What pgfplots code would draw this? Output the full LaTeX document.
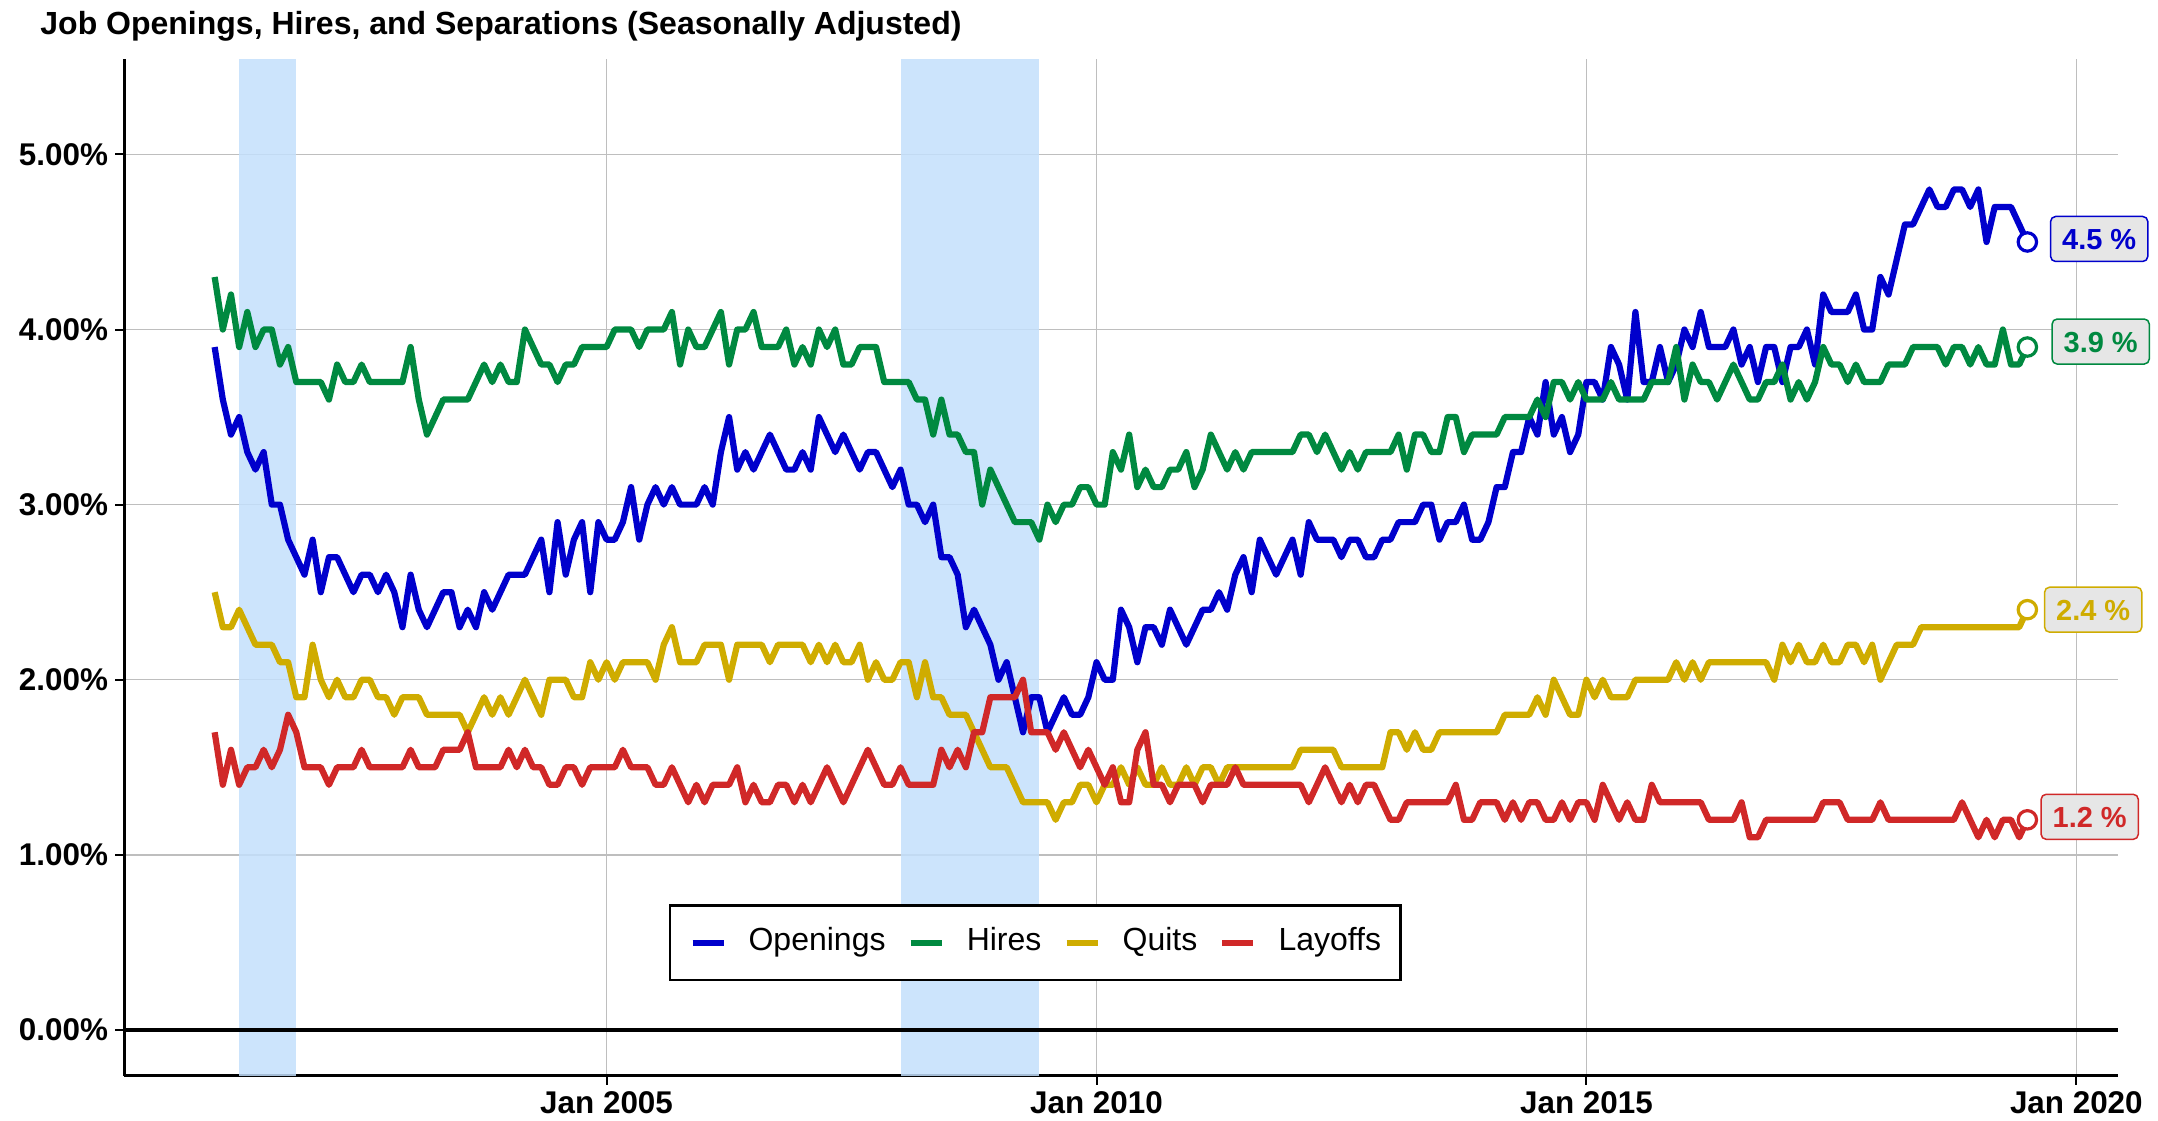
\documentclass[border=0pt]{standalone}
\usepackage{fontspec}
\setmainfont{Liberation Sans}
\usepackage{pgfplots}
\pgfplotsset{compat=1.18}
\usepackage{pgfplotstable}

\definecolor{cOpen}{RGB}{0,0,204}
\definecolor{cHire}{RGB}{0,137,64}
\definecolor{cQuit}{RGB}{207,172,0}
\definecolor{cLay}{RGB}{208,40,40}
\definecolor{cRec}{RGB}{195,223,252}
\definecolor{cGrid}{RGB}{190,190,190}
\definecolor{cBox}{RGB}{230,230,230}

\pgfplotstableread{
yr mo O H Q L
2001 1 3.9 4.3 2.5 1.7
2001 2 3.6 4.0 2.3 1.4
2001 3 3.4 4.2 2.3 1.6
2001 4 3.5 3.9 2.4 1.4
2001 5 3.3 4.1 2.3 1.5
2001 6 3.2 3.9 2.2 1.5
2001 7 3.3 4.0 2.2 1.6
2001 8 3.0 4.0 2.2 1.5
2001 9 3.0 3.8 2.1 1.6
2001 10 2.8 3.9 2.1 1.8
2001 11 2.7 3.7 1.9 1.7
2001 12 2.6 3.7 1.9 1.5
2002 1 2.8 3.7 2.2 1.5
2002 2 2.5 3.7 2.0 1.5
2002 3 2.7 3.6 1.9 1.4
2002 4 2.7 3.8 2.0 1.5
2002 5 2.6 3.7 1.9 1.5
2002 6 2.5 3.7 1.9 1.5
2002 7 2.6 3.8 2.0 1.6
2002 8 2.6 3.7 2.0 1.5
2002 9 2.5 3.7 1.9 1.5
2002 10 2.6 3.7 1.9 1.5
2002 11 2.5 3.7 1.8 1.5
2002 12 2.3 3.7 1.9 1.5
2003 1 2.6 3.9 1.9 1.6
2003 2 2.4 3.6 1.9 1.5
2003 3 2.3 3.4 1.8 1.5
2003 4 2.4 3.5 1.8 1.5
2003 5 2.5 3.6 1.8 1.6
2003 6 2.5 3.6 1.8 1.6
2003 7 2.3 3.6 1.8 1.6
2003 8 2.4 3.6 1.7 1.7
2003 9 2.3 3.7 1.8 1.5
2003 10 2.5 3.8 1.9 1.5
2003 11 2.4 3.7 1.8 1.5
2003 12 2.5 3.8 1.9 1.5
2004 1 2.6 3.7 1.8 1.6
2004 2 2.6 3.7 1.9 1.5
2004 3 2.6 4.0 2.0 1.6
2004 4 2.7 3.9 1.9 1.5
2004 5 2.8 3.8 1.8 1.5
2004 6 2.5 3.8 2.0 1.4
2004 7 2.9 3.7 2.0 1.4
2004 8 2.6 3.8 2.0 1.5
2004 9 2.8 3.8 1.9 1.5
2004 10 2.9 3.9 1.9 1.4
2004 11 2.5 3.9 2.1 1.5
2004 12 2.9 3.9 2.0 1.5
2005 1 2.8 3.9 2.1 1.5
2005 2 2.8 4.0 2.0 1.5
2005 3 2.9 4.0 2.1 1.6
2005 4 3.1 4.0 2.1 1.5
2005 5 2.8 3.9 2.1 1.5
2005 6 3.0 4.0 2.1 1.5
2005 7 3.1 4.0 2.0 1.4
2005 8 3.0 4.0 2.2 1.4
2005 9 3.1 4.1 2.3 1.5
2005 10 3.0 3.8 2.1 1.4
2005 11 3.0 4.0 2.1 1.3
2005 12 3.0 3.9 2.1 1.4
2006 1 3.1 3.9 2.2 1.3
2006 2 3.0 4.0 2.2 1.4
2006 3 3.3 4.1 2.2 1.4
2006 4 3.5 3.8 2.0 1.4
2006 5 3.2 4.0 2.2 1.5
2006 6 3.3 4.0 2.2 1.3
2006 7 3.2 4.1 2.2 1.4
2006 8 3.3 3.9 2.2 1.3
2006 9 3.4 3.9 2.1 1.3
2006 10 3.3 3.9 2.2 1.4
2006 11 3.2 4.0 2.2 1.4
2006 12 3.2 3.8 2.2 1.3
2007 1 3.3 3.9 2.2 1.4
2007 2 3.2 3.8 2.1 1.3
2007 3 3.5 4.0 2.2 1.4
2007 4 3.4 3.9 2.1 1.5
2007 5 3.3 4.0 2.2 1.4
2007 6 3.4 3.8 2.1 1.3
2007 7 3.3 3.8 2.1 1.4
2007 8 3.2 3.9 2.2 1.5
2007 9 3.3 3.9 2.0 1.6
2007 10 3.3 3.9 2.1 1.5
2007 11 3.2 3.7 2.0 1.4
2007 12 3.1 3.7 2.0 1.4
2008 1 3.2 3.7 2.1 1.5
2008 2 3.0 3.7 2.1 1.4
2008 3 3.0 3.6 1.9 1.4
2008 4 2.9 3.6 2.1 1.4
2008 5 3.0 3.4 1.9 1.4
2008 6 2.7 3.6 1.9 1.6
2008 7 2.7 3.4 1.8 1.5
2008 8 2.6 3.4 1.8 1.6
2008 9 2.3 3.3 1.8 1.5
2008 10 2.4 3.3 1.7 1.7
2008 11 2.3 3.0 1.6 1.7
2008 12 2.2 3.2 1.5 1.9
2009 1 2.0 3.1 1.5 1.9
2009 2 2.1 3.0 1.5 1.9
2009 3 1.9 2.9 1.4 1.9
2009 4 1.7 2.9 1.3 2.0
2009 5 1.9 2.9 1.3 1.7
2009 6 1.9 2.8 1.3 1.7
2009 7 1.7 3.0 1.3 1.7
2009 8 1.8 2.9 1.2 1.6
2009 9 1.9 3.0 1.3 1.7
2009 10 1.8 3.0 1.3 1.6
2009 11 1.8 3.1 1.4 1.5
2009 12 1.9 3.1 1.4 1.6
2010 1 2.1 3.0 1.3 1.5
2010 2 2.0 3.0 1.4 1.4
2010 3 2.0 3.3 1.4 1.5
2010 4 2.4 3.2 1.5 1.3
2010 5 2.3 3.4 1.4 1.3
2010 6 2.1 3.1 1.5 1.6
2010 7 2.3 3.2 1.4 1.7
2010 8 2.3 3.1 1.4 1.4
2010 9 2.2 3.1 1.5 1.4
2010 10 2.4 3.2 1.4 1.3
2010 11 2.3 3.2 1.4 1.4
2010 12 2.2 3.3 1.5 1.4
2011 1 2.3 3.1 1.4 1.4
2011 2 2.4 3.2 1.5 1.3
2011 3 2.4 3.4 1.5 1.4
2011 4 2.5 3.3 1.4 1.4
2011 5 2.4 3.2 1.5 1.4
2011 6 2.6 3.3 1.5 1.5
2011 7 2.7 3.2 1.5 1.4
2011 8 2.5 3.3 1.5 1.4
2011 9 2.8 3.3 1.5 1.4
2011 10 2.7 3.3 1.5 1.4
2011 11 2.6 3.3 1.5 1.4
2011 12 2.7 3.3 1.5 1.4
2012 1 2.8 3.3 1.5 1.4
2012 2 2.6 3.4 1.6 1.4
2012 3 2.9 3.4 1.6 1.3
2012 4 2.8 3.3 1.6 1.4
2012 5 2.8 3.4 1.6 1.5
2012 6 2.8 3.3 1.6 1.4
2012 7 2.7 3.2 1.5 1.3
2012 8 2.8 3.3 1.5 1.4
2012 9 2.8 3.2 1.5 1.3
2012 10 2.7 3.3 1.5 1.4
2012 11 2.7 3.3 1.5 1.4
2012 12 2.8 3.3 1.5 1.3
2013 1 2.8 3.3 1.7 1.2
2013 2 2.9 3.4 1.7 1.2
2013 3 2.9 3.2 1.6 1.3
2013 4 2.9 3.4 1.7 1.3
2013 5 3.0 3.4 1.6 1.3
2013 6 3.0 3.3 1.6 1.3
2013 7 2.8 3.3 1.7 1.3
2013 8 2.9 3.5 1.7 1.3
2013 9 2.9 3.5 1.7 1.4
2013 10 3.0 3.3 1.7 1.2
2013 11 2.8 3.4 1.7 1.2
2013 12 2.8 3.4 1.7 1.3
2014 1 2.9 3.4 1.7 1.3
2014 2 3.1 3.4 1.7 1.3
2014 3 3.1 3.5 1.8 1.2
2014 4 3.3 3.5 1.8 1.3
2014 5 3.3 3.5 1.8 1.2
2014 6 3.5 3.5 1.8 1.3
2014 7 3.4 3.6 1.9 1.3
2014 8 3.7 3.5 1.8 1.2
2014 9 3.4 3.7 2.0 1.2
2014 10 3.5 3.7 1.9 1.3
2014 11 3.3 3.6 1.8 1.2
2014 12 3.4 3.7 1.8 1.3
2015 1 3.7 3.6 2.0 1.3
2015 2 3.7 3.6 1.9 1.2
2015 3 3.6 3.6 2.0 1.4
2015 4 3.9 3.7 1.9 1.3
2015 5 3.8 3.6 1.9 1.2
2015 6 3.6 3.6 1.9 1.3
2015 7 4.1 3.6 2.0 1.2
2015 8 3.7 3.6 2.0 1.2
2015 9 3.7 3.7 2.0 1.4
2015 10 3.9 3.7 2.0 1.3
2015 11 3.7 3.7 2.0 1.3
2015 12 3.8 3.9 2.1 1.3
2016 1 4.0 3.6 2.0 1.3
2016 2 3.9 3.8 2.1 1.3
2016 3 4.1 3.7 2.0 1.3
2016 4 3.9 3.7 2.1 1.2
2016 5 3.9 3.6 2.1 1.2
2016 6 3.9 3.7 2.1 1.2
2016 7 4.0 3.8 2.1 1.2
2016 8 3.8 3.7 2.1 1.3
2016 9 3.9 3.6 2.1 1.1
2016 10 3.7 3.6 2.1 1.1
2016 11 3.9 3.7 2.1 1.2
2016 12 3.9 3.7 2.0 1.2
2017 1 3.7 3.8 2.2 1.2
2017 2 3.9 3.6 2.1 1.2
2017 3 3.9 3.7 2.2 1.2
2017 4 4.0 3.6 2.1 1.2
2017 5 3.8 3.7 2.1 1.2
2017 6 4.2 3.9 2.2 1.3
2017 7 4.1 3.8 2.1 1.3
2017 8 4.1 3.8 2.1 1.3
2017 9 4.1 3.7 2.2 1.2
2017 10 4.2 3.8 2.2 1.2
2017 11 4.0 3.7 2.1 1.2
2017 12 4.0 3.7 2.2 1.2
2018 1 4.3 3.7 2.0 1.3
2018 2 4.2 3.8 2.1 1.2
2018 3 4.4 3.8 2.2 1.2
2018 4 4.6 3.8 2.2 1.2
2018 5 4.6 3.9 2.2 1.2
2018 6 4.7 3.9 2.3 1.2
2018 7 4.8 3.9 2.3 1.2
2018 8 4.7 3.9 2.3 1.2
2018 9 4.7 3.8 2.3 1.2
2018 10 4.8 3.9 2.3 1.2
2018 11 4.8 3.9 2.3 1.3
2018 12 4.7 3.8 2.3 1.2
2019 1 4.8 3.9 2.3 1.1
2019 2 4.5 3.8 2.3 1.2
2019 3 4.7 3.8 2.3 1.1
2019 4 4.7 4.0 2.3 1.2
2019 5 4.7 3.8 2.3 1.2
2019 6 4.6 3.8 2.3 1.1
2019 7 4.5 3.9 2.4 1.2
}\jolts

\begin{document}
\begin{tikzpicture}
\begin{axis}[
  scale only axis, width=997pt, height=508.5pt,
  xmin=2000.075, xmax=2020.425, ymin=-0.263, ymax=5.545,
  axis x line*=bottom, axis y line*=left,
  axis line style={line width=1.5pt,-},
  xtick={2005,2010,2015,2020},
  xticklabels={Jan 2005,Jan 2010,Jan 2015,Jan 2020},
  ytick={0,1,2,3,4,5},
  yticklabels={0.00\%,1.00\%,2.00\%,3.00\%,4.00\%,5.00\%},
  tick align=outside, major tick length=4.5pt,
  tick style={line width=1pt, black},
  grid=major, major grid style={line width=0.75pt, cGrid},
  ticklabel style={font=\fontsize{15.7}{18}\selectfont\bfseries},
  clip=false,
  legend columns=4,
  legend style={
    at={(axis description cs:0.457,0.131)}, anchor=center,
    draw=black, line width=1.25pt,
    inner xsep=9.8pt, inner ysep=11.25pt,
    font=\fontsize{16}{19}\selectfont,
    nodes={inner sep=0pt, text height=11.5pt, text depth=3.4pt},
    /tikz/every odd column/.append style={column sep=11pt},
    /tikz/every even column/.append style={column sep=11pt},
  },
  legend image code/.code={\draw[#1] (0pt,0pt) -- (15.5pt,0pt);},
]
% recession shading
\addplot[forget plot, draw=none, fill=cRec, fill opacity=0.85] coordinates {(2001.25,-0.263) (2001.833,-0.263) (2001.833,5.545) (2001.25,5.545)};
\addplot[forget plot, draw=none, fill=cRec, fill opacity=0.85] coordinates {(2008.0,-0.263) (2009.417,-0.263) (2009.417,5.545) (2008.0,5.545)};
% zero line
\addplot[forget plot, black, line width=2pt] coordinates {(2000.075,0) (2020.425,0)};

\addplot[cOpen, line width=3.1pt, line join=round] table[x expr={\thisrow{yr}+(\thisrow{mo}-1)/12}, y=O] {\jolts};
\addlegendentry{Openings}
\addplot[cHire, line width=3.1pt, line join=round] table[x expr={\thisrow{yr}+(\thisrow{mo}-1)/12}, y=H] {\jolts};
\addlegendentry{Hires}
\addplot[cQuit, line width=3.1pt, line join=round] table[x expr={\thisrow{yr}+(\thisrow{mo}-1)/12}, y=Q] {\jolts};
\addlegendentry{Quits}
\addplot[cLay, line width=3.1pt, line join=round] table[x expr={\thisrow{yr}+(\thisrow{mo}-1)/12}, y=L] {\jolts};
\addlegendentry{Layoffs}

% end markers
\addplot[forget plot, only marks, mark=*, mark size=4.6pt, mark options={fill=white, draw=cOpen, line width=1.6pt}] coordinates {(2019.5,4.5)};
\addplot[forget plot, only marks, mark=*, mark size=4.6pt, mark options={fill=white, draw=cHire, line width=1.6pt}] coordinates {(2019.5,3.9)};
\addplot[forget plot, only marks, mark=*, mark size=4.6pt, mark options={fill=white, draw=cQuit, line width=1.6pt}] coordinates {(2019.5,2.4)};
\addplot[forget plot, only marks, mark=*, mark size=4.6pt, mark options={fill=white, draw=cLay, line width=1.6pt}] coordinates {(2019.5,1.2)};

% end labels
\tikzset{endlab/.style={anchor=west, fill=cBox, rounded corners=2.5pt, line width=0.75pt,
  inner xsep=5.75pt, inner ysep=6pt, text height=10.5pt, text depth=0pt,
  font=\fontsize{14.5}{17}\selectfont\bfseries}}
\node[endlab, draw=cOpen, text=cOpen, xshift=11.25pt, yshift=1.5pt] at (axis cs:2019.5,4.5) {4.5 \%};
\node[endlab, draw=cHire, text=cHire, xshift=12pt, yshift=2.75pt] at (axis cs:2019.5,3.9) {3.9 \%};
\node[endlab, draw=cQuit, text=cQuit, xshift=8.25pt] at (axis cs:2019.5,2.4) {2.4 \%};
\node[endlab, draw=cLay, text=cLay, xshift=6.5pt, yshift=1.5pt] at (axis cs:2019.5,1.2) {1.2 \%};

% title
\node[anchor=base west, inner sep=0pt, font=\fontsize{16}{19}\selectfont\bfseries, yshift=12.35pt] at (rel axis cs:-0.04213,1) {Job Openings, Hires, and Separations (Seasonally Adjusted)};

% canvas
\path (rel axis cs:-0.06219,-0.04031) rectangle (rel axis cs:1.02006,1.05801);
\end{axis}
\end{tikzpicture}
\end{document}
